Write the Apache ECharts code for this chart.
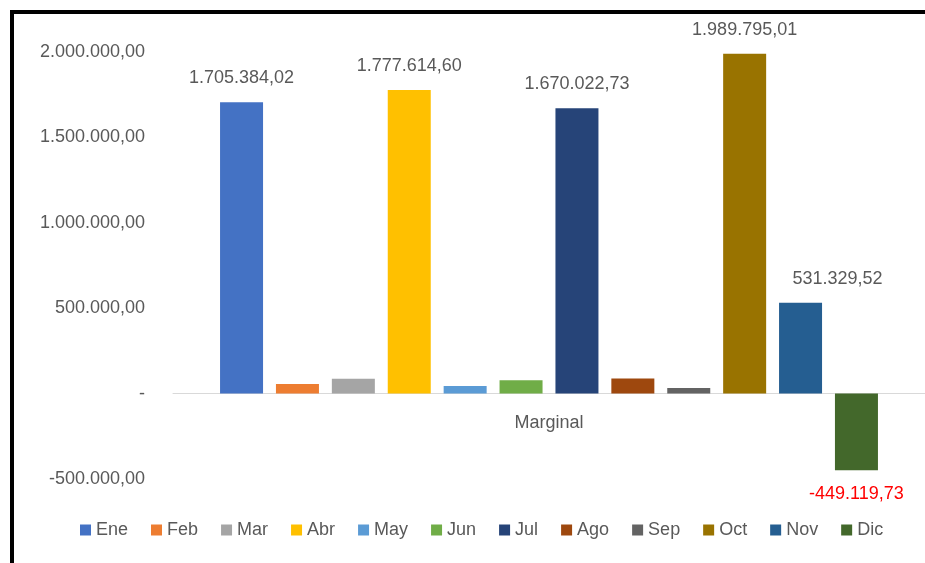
<!DOCTYPE html>
<html>
<head>
<meta charset="utf-8">
<script src="https://cdn.jsdelivr.net/npm/echarts@6/dist/echarts.min.js"></script>
<style>
html,body{margin:0;padding:0;background:#fff;}
#chart{width:925px;height:563px;}
</style>
</head>
<body>
<div id="chart"></div>
<script>
var categories = ['Marginal'];
var seriesNames = ['Ene','Feb','Mar','Abr','May','Jun','Jul','Ago','Sep','Oct','Nov','Dic'];
var seriesValues = [1705384.02, 56000, 87000, 1777614.60, 44000, 78000, 1670022.73, 89000, 33000, 1989795.01, 531329.52, -449119.73];
var labelled = [true,false,false,true,false,false,true,false,false,true,true,true];
var colors = ['#4472C4','#ED7D31','#A5A5A5','#FFC000','#5B9BD5','#70AD47','#264478','#9E480E','#636363','#997300','#255E91','#43682B'];
var yTicks = {min:-500000, max:2000000, interval:500000};

function fmt(v){
  if (v === 0) return '-';
  var neg = v < 0; v = Math.abs(v);
  var s = v.toFixed(2).split('.');
  var ip = s[0].replace(/\B(?=(\d{3})+(?!\d))/g,'.');
  return (neg?'-':'') + ip + ',' + s[1];
}

var FONT = 'Liberation Sans';
var series = seriesNames.map(function(n,i){
  var neg = seriesValues[i] < 0;
  return {
    name:n, type:'bar', data:[seriesValues[i]],
    barWidth:43, barGap:'30%',
    itemStyle:{color:colors[i]},
    label:{show:labelled[i], position: neg?'bottom':'top', distance:15,
      offset: n==='Nov' ? [37,0] : [0,0],
      formatter:function(p){return fmt(p.value);},
      fontFamily:FONT, fontSize:18, color: neg?'#FF0000':'#595959'}
  };
});

var chart = echarts.init(document.getElementById('chart'));
chart.setOption({
  animation:false,
  color:colors,
  grid:{left:173,right:0,top:52,bottom:84,containLabel:false},
  legend:{data:seriesNames, bottom:19, left:75, itemWidth:11, itemHeight:11, itemGap:23,
    icon:'rect', textStyle:{fontFamily:FONT,fontSize:18,color:'#595959'}},
  xAxis:{type:'category', data:categories,
    axisLine:{show:true,onZero:true,lineStyle:{color:'#D9D9D9',width:1}},
    axisTick:{show:false},
    axisLabel:{fontFamily:FONT,fontSize:18,color:'#595959',margin:-65}},
  yAxis:{type:'value', min:yTicks.min, max:yTicks.max, interval:yTicks.interval,
    axisLine:{show:false}, axisTick:{show:false}, splitLine:{show:false},
    axisLabel:{formatter:fmt, fontFamily:FONT, fontSize:18, color:'#595959', margin:28}},
  graphic:[
    {type:'rect', shape:{x:10,y:10,width:4,height:553}, style:{fill:'#000'}},
    {type:'rect', shape:{x:10,y:10,width:915,height:4}, style:{fill:'#000'}}
  ],
  series:series
});
</script>
</body>
</html>
